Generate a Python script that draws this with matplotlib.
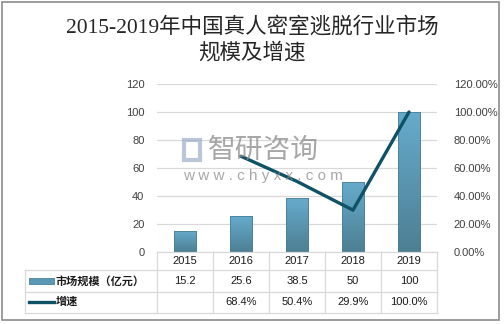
import matplotlib
matplotlib.use("Agg")
import matplotlib.pyplot as plt
import numpy as np
from matplotlib.patches import Rectangle
from matplotlib.lines import Line2D

plt.rcParams['font.family'] = ['Liberation Sans', 'Noto Sans CJK SC', 'DejaVu Sans']

years = ["2015", "2016", "2017", "2018", "2019"]
market = [15.2, 25.6, 38.5, 50, 100]
market_labels = ["15.2", "25.6", "38.5", "50", "100"]
growth = [None, 68.4, 50.4, 29.9, 100.0]
growth_labels = ["", "68.4%", "50.4%", "29.9%", "100.0%"]
title = "2015-2019年中国真人密室逃脱行业市场\n规模及增速"

W, H = 504, 324
fig = plt.figure(figsize=(W / 100, H / 100), dpi=100)

def fx(px):
    return px / W

def fy(py):
    return 1 - py / H

# outer border
fig.patches.append(Rectangle((fx(2), fy(320)), fx(499) - fx(2), fy(2) - fy(320),
                             transform=fig.transFigure, fill=False,
                             edgecolor="#8c8c8c", lw=1.2))

fig.text(0.5, fy(40), title, ha="center", va="center", fontsize=15.5,
         family=['Liberation Serif', 'Noto Sans CJK SC'], color="#262626",
         linespacing=1.3)

left, right, top, bottom = 157, 437, 84, 252
ax = fig.add_axes([fx(left), fy(bottom), fx(right) - fx(left), fy(top) - fy(bottom)])
x = np.arange(len(years))
ax.set_yticks(np.arange(0, 121, 20))
ax.yaxis.grid(True, color="#d9d9d9", lw=0.9)
ax.set_axisbelow(True)
ax.set_xticks([])
for s in ax.spines.values():
    s.set_visible(False)
ax.tick_params(axis="y", length=0, labelsize=8, labelcolor="#404040", pad=9)

# gradient bars
bars = ax.bar(x, market, width=0.41, color="none", edgecolor="#4a8098", lw=0.6, zorder=2)
grad = np.linspace(0, 1, 100).reshape(-1, 1)
cmap = matplotlib.colors.LinearSegmentedColormap.from_list("g", ["#4d7f93", "#66abcc"])
for b in bars:
    bx, by = b.get_x(), b.get_y()
    im = ax.imshow(grad, extent=[bx, bx + b.get_width(), by, by + b.get_height()],
                   origin="lower", aspect="auto", cmap=cmap, zorder=1.9)
    im.set_clip_path(b)
ax.set_xlim(-0.5, len(years) - 0.5)
ax.set_ylim(0, 120)

ax2 = ax.twinx()
ax2.set_ylim(0, 120)
ax2.set_yticks(np.arange(0, 121, 20))
ax2.set_yticklabels([f"{v:.2f}%" for v in np.arange(0, 121, 20)])
for s in ax2.spines.values():
    s.set_visible(False)
ax2.tick_params(axis="y", length=0, labelsize=8, labelcolor="#404040", pad=12)
gx = [i for i, g in enumerate(growth) if g is not None]
gy = [g for g in growth if g is not None]
ax2.plot(gx, gy, color="#0f5266", lw=2.4, solid_capstyle="round", zorder=3)

# watermark
fig.patches.append(Rectangle((fx(184), fy(160)), fx(16), fy(140) - fy(160),
                             transform=fig.transFigure, fill=False,
                             edgecolor="#8ea0c0", lw=3, alpha=0.6))
fig.text(fx(208), fy(150), "智研咨询", fontsize=20, color="#8a8a8a", alpha=0.75,
         va="center", family=['Noto Sans CJK SC'])
fig.text(fx(183), fy(176), "w w w . c h y x x . c o m", fontsize=11, color="#8a8a8a",
         alpha=0.75, va="center")

# data table
tc = "#d9d9d9"
col_edges = [left + i * (right - left) / len(years) for i in range(len(years) + 1)]
rows = [252, 270, 292, 313]
lines = []
for e in col_edges:
    lines.append(((e, e), (rows[0], rows[3])))
lines.append(((25, 25), (rows[1], rows[3])))
lines.append(((left, right), (rows[0], rows[0])))
for r in rows[1:]:
    lines.append(((25, right), (r, r)))
for xs, ys in lines:
    fig.add_artist(Line2D([fx(v) for v in xs], [fy(v) for v in ys], color=tc, lw=0.9))

txt_kw = dict(ha="center", va="center", fontsize=8, color="#1a1a1a")
for i in range(len(years)):
    cx = (col_edges[i] + col_edges[i + 1]) / 2
    fig.text(fx(cx), fy(261), years[i], **txt_kw)
    fig.text(fx(cx), fy(281), market_labels[i], **txt_kw)
    fig.text(fx(cx), fy(302), growth_labels[i], **txt_kw)

fig.patches.append(Rectangle((fx(29), fy(284)), fx(54) - fx(29), fy(278) - fy(284),
                             transform=fig.transFigure, facecolor="#5b98b5",
                             edgecolor="#4a8098", lw=0.6))
fig.text(fx(56), fy(281), "市场规模（亿元）", fontsize=8, color="#1a1a1a", va="center",
         fontweight="bold")
fig.add_artist(Line2D([fx(29), fx(54)], [fy(302), fy(302)], color="#0f5266", lw=2.4))
fig.text(fx(56), fy(302), "增速", fontsize=8, color="#1a1a1a", va="center",
         fontweight="bold")

fig.savefig("out.png", dpi=100)
